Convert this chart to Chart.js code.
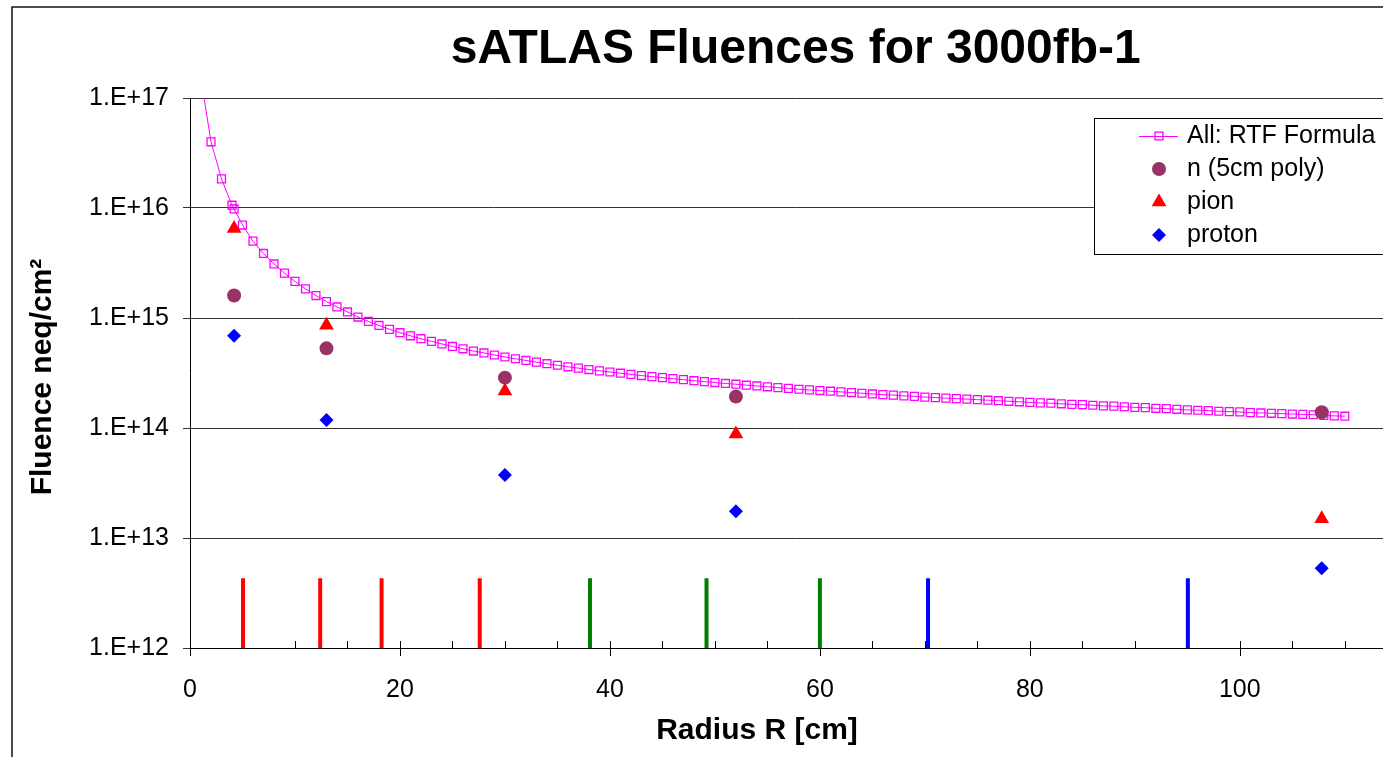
<!DOCTYPE html>
<html lang="en">
<head>
    <meta charset="UTF-8">
    <title>sATLAS Fluences for 3000fb-1</title>
    <script src="https://cdn.jsdelivr.net/npm/chart.js"></script>
    <style>
        html, body {
            margin: 0;
            padding: 0;
            background: #ffffff;
            overflow: hidden;
        }
        #wrap {
            width: 1410px;
            height: 757px;
        }
    </style>
</head>
<body>
    <div id="wrap"><canvas id="fluenceChart" width="1410" height="757"></canvas></div>

    <script>
        // RTF formula curve, one point per cm
        const radius = [1, 2, 3, 4, 4.2, 5, 6, 7, 8, 9, 10,
            11, 12, 13, 14, 15, 16, 17, 18, 19, 20,
            21, 22, 23, 24, 25, 26, 27, 28, 29, 30,
            31, 32, 33, 34, 35, 36, 37, 38, 39, 40,
            41, 42, 43, 44, 45, 46, 47, 48, 49, 50,
            51, 52, 53, 54, 55, 56, 57, 58, 59, 60,
            61, 62, 63, 64, 65, 66, 67, 68, 69, 70,
            71, 72, 73, 74, 75, 76, 77, 78, 79, 80,
            81, 82, 83, 84, 85, 86, 87, 88, 89, 90,
            91, 92, 93, 94, 95, 96, 97, 98, 99, 100,
            101, 102, 103, 104, 105, 106, 107, 108, 109, 110];
        const rtfFluence = [1.6e17, 4.0e16, 1.84e16, 1.06e16, 9.8e15, 7.0e15, 5.0e15, 3.86e15, 3.10e15, 2.56e15, 2.15e15,
            1.84e15, 1.60e15, 1.41e15, 1.26e15, 1.135e15, 1.02e15, 9.3e14, 8.55e14, 7.89e14, 7.35e14,
            6.89e14, 6.48e14, 6.13e14, 5.81e14, 5.51e14, 5.25e14, 5.01e14, 4.81e14, 4.61e14, 4.42e14,
            4.26e14, 4.11e14, 3.97e14, 3.84e14, 3.72e14, 3.60e14, 3.50e14, 3.40e14, 3.31e14, 3.23e14,
            3.15e14, 3.07e14, 3.00e14, 2.93e14, 2.87e14, 2.81e14, 2.75e14, 2.69e14, 2.64e14, 2.59e14,
            2.54e14, 2.50e14, 2.45e14, 2.41e14, 2.37e14, 2.33e14, 2.29e14, 2.25e14, 2.22e14, 2.19e14,
            2.16e14, 2.13e14, 2.10e14, 2.07e14, 2.04e14, 2.01e14, 1.99e14, 1.96e14, 1.94e14, 1.91e14,
            1.89e14, 1.87e14, 1.85e14, 1.83e14, 1.81e14, 1.79e14, 1.77e14, 1.75e14, 1.73e14, 1.71e14,
            1.69e14, 1.68e14, 1.66e14, 1.64e14, 1.63e14, 1.61e14, 1.59e14, 1.58e14, 1.56e14, 1.54e14,
            1.53e14, 1.51e14, 1.50e14, 1.48e14, 1.46e14, 1.45e14, 1.44e14, 1.42e14, 1.41e14, 1.40e14,
            1.38e14, 1.37e14, 1.36e14, 1.35e14, 1.34e14, 1.33e14, 1.32e14, 1.30e14, 1.29e14, 1.28e14];

        // simulated points
        const sampleRadius = [4.2, 13, 30, 52, 107.8];
        const neutronFluence = [1.6e15, 5.3e14, 2.87e14, 1.93e14, 1.39e14];
        const pionFluence = [6.5e15, 8.6e14, 2.17e14, 8.8e13, 1.5e13];
        const protonFluence = [6.9e14, 1.18e14, 3.74e13, 1.75e13, 5.3e12];

        // detector layer markers along the bottom
        const pixelLayers = [5.05, 12.4, 18.25, 27.6];
        const shortStripLayers = [38.1, 49.2, 60.0];
        const longStripLayers = [70.3, 95.05];
        const layerBase = 1e12;
        const layerTop = 4.3e12;

        const yTicks = [1e12, 1e13, 1e14, 1e15, 1e16, 1e17];
        const xMax = 115.4;

        const fontFamily = "'Liberation Sans', Arial, Helvetica, sans-serif";
        Chart.defaults.font.family = fontFamily;
        Chart.defaults.color = '#000';

        function toPoints(xs, ys) {
            return xs.map((x, i) => ({ x: x, y: ys[i] }));
        }

        function layerDatasets(list, color) {
            return list.map(r => ({
                data: [{ x: r, y: layerBase }, { x: r, y: layerTop }],
                borderColor: color,
                borderWidth: 4,
                pointRadius: 0,
                order: 5
            }));
        }

        const framePlugin = {
            id: 'frame',
            beforeDraw(chart) {
                const c = chart.ctx;
                c.save();
                c.strokeStyle = '#111';
                c.lineWidth = 1.5;
                c.strokeRect(12, 7, 2000, 2000);
                c.restore();
            }
        };

        // small inside ticks every 5 cm, crossing ticks every 20 cm
        const xTickPlugin = {
            id: 'xTicks',
            beforeDatasetsDraw(chart) {
                const xs = chart.scales.x;
                const yb = chart.chartArea.bottom;
                const c = chart.ctx;
                c.save();
                c.strokeStyle = '#000';
                c.lineWidth = 1;
                for (let v = 0; v <= xs.max; v += 5) {
                    const px = Math.round(xs.getPixelForValue(v)) + 0.5;
                    const major = v % 20 === 0;
                    c.beginPath();
                    c.moveTo(px, yb - 7);
                    c.lineTo(px, yb + (major ? 8 : 0));
                    c.stroke();
                }
                c.restore();
            }
        };

        const axisTitlePlugin = {
            id: 'axisTitles',
            afterDraw(chart) {
                const c = chart.ctx;
                c.save();
                c.fillStyle = '#000';
                c.font = 'bold 30px ' + fontFamily;
                c.textAlign = 'center';
                c.textBaseline = 'middle';
                c.fillText('Radius R [cm]', 757, 731);
                c.translate(42.5, 377);
                c.rotate(-Math.PI / 2);
                c.fillText('Fluence neq/cm\u00B2', 0, 0);
                c.restore();
            }
        };

        const legendPlugin = {
            id: 'boxLegend',
            afterDraw(chart) {
                const c = chart.ctx;
                const items = chart.data.datasets.filter(d => d.label);
                c.save();
                c.fillStyle = '#fff';
                c.fillRect(1094.5, 118.5, 400, 136);
                c.strokeStyle = '#000';
                c.lineWidth = 1;
                c.strokeRect(1094.5, 118.5, 400, 136);
                c.font = '25px ' + fontFamily;
                c.textBaseline = 'middle';
                c.textAlign = 'left';
                items.forEach((ds, i) => {
                    const y = 136 + i * 33;
                    if (ds.showLine !== false) {
                        c.strokeStyle = ds.borderColor;
                        c.lineWidth = ds.borderWidth;
                        c.beginPath();
                        c.moveTo(1139, y + 0.5);
                        c.lineTo(1178, y + 0.5);
                        c.stroke();
                    }
                    c.fillStyle = ds.pointBackgroundColor;
                    c.strokeStyle = ds.pointBorderColor;
                    c.lineWidth = ds.pointBorderWidth;
                    Chart.helpers.drawPoint(c, {
                        pointStyle: ds.pointStyle,
                        radius: ds.pointRadius,
                        borderWidth: ds.pointBorderWidth,
                        rotation: 0
                    }, 1159, y);
                    c.fillStyle = '#000';
                    c.fillText(ds.label, 1187, y);
                });
                c.restore();
            }
        };

        const ctx = document.getElementById('fluenceChart').getContext('2d');
        new Chart(ctx, {
            type: 'line',
            data: {
                datasets: [
                    {
                        label: 'All: RTF Formula',
                        data: toPoints(radius, rtfFluence),
                        borderColor: '#FF00FF',
                        borderWidth: 1,
                        pointStyle: 'rect',
                        pointRadius: 5.6,
                        pointBorderColor: '#FF00FF',
                        pointBackgroundColor: 'rgba(255,255,255,0)',
                        pointBorderWidth: 1.3,
                        tension: 0,
                        order: 4
                    },
                    {
                        label: 'n (5cm poly)',
                        data: toPoints(sampleRadius, neutronFluence),
                        showLine: false,
                        pointStyle: 'circle',
                        pointRadius: 7,
                        pointBorderColor: '#993366',
                        pointBackgroundColor: '#993366',
                        pointBorderWidth: 0,
                        order: 3
                    },
                    {
                        label: 'pion',
                        data: toPoints(sampleRadius, pionFluence),
                        showLine: false,
                        pointStyle: 'triangle',
                        pointRadius: 8.5,
                        pointBorderColor: '#FF0000',
                        pointBackgroundColor: '#FF0000',
                        pointBorderWidth: 0,
                        order: 2
                    },
                    {
                        label: 'proton',
                        data: toPoints(sampleRadius, protonFluence),
                        showLine: false,
                        pointStyle: 'rectRot',
                        pointRadius: 7,
                        pointBorderColor: '#0000FF',
                        pointBackgroundColor: '#0000FF',
                        pointBorderWidth: 0,
                        order: 1
                    },
                    ...layerDatasets(pixelLayers, '#FF0000'),
                    ...layerDatasets(shortStripLayers, '#008000'),
                    ...layerDatasets(longStripLayers, '#0000FF')
                ]
            },
            options: {
                responsive: false,
                animation: false,
                layout: { padding: 0 },
                plugins: {
                    legend: { display: false },
                    tooltip: { enabled: false },
                    title: {
                        display: true,
                        text: 'sATLAS Fluences for 3000fb-1',
                        fullSize: false,
                        color: '#000',
                        font: { size: 48, weight: 'bold' },
                        padding: { top: 21, bottom: 19.4 }
                    }
                },
                scales: {
                    x: {
                        type: 'linear',
                        min: 0,
                        max: xMax,
                        afterBuildTicks: s => {
                            s.ticks = s.ticks.filter(t => t.value % 20 === 0);
                        },
                        ticks: {
                            stepSize: 20,
                            includeBounds: false,
                            padding: 27,
                            maxRotation: 0,
                            autoSkip: false,
                            font: { size: 25 },
                            color: '#000'
                        },
                        grid: { display: true, drawOnChartArea: false, drawTicks: false },
                        border: { color: '#000', width: 1 },
                        afterFit: s => {
                            s.height = 109;
                            s.paddingRight = 0;
                        }
                    },
                    y: {
                        type: 'logarithmic',
                        min: 1e12,
                        max: 1e17,
                        afterBuildTicks: s => { s.ticks = yTicks.map(v => ({ value: v })); },
                        ticks: {
                            callback: v => '1.E+' + Math.round(Math.log10(v)),
                            padding: 14,
                            autoSkip: false,
                            font: { size: 25 },
                            color: '#000'
                        },
                        grid: { color: '#333', tickLength: 7 },
                        border: { color: '#000', width: 1 },
                        afterFit: s => { s.width = 190; }
                    }
                }
            },
            plugins: [framePlugin, xTickPlugin, axisTitlePlugin, legendPlugin]
        });
    </script>
</body>
</html>
